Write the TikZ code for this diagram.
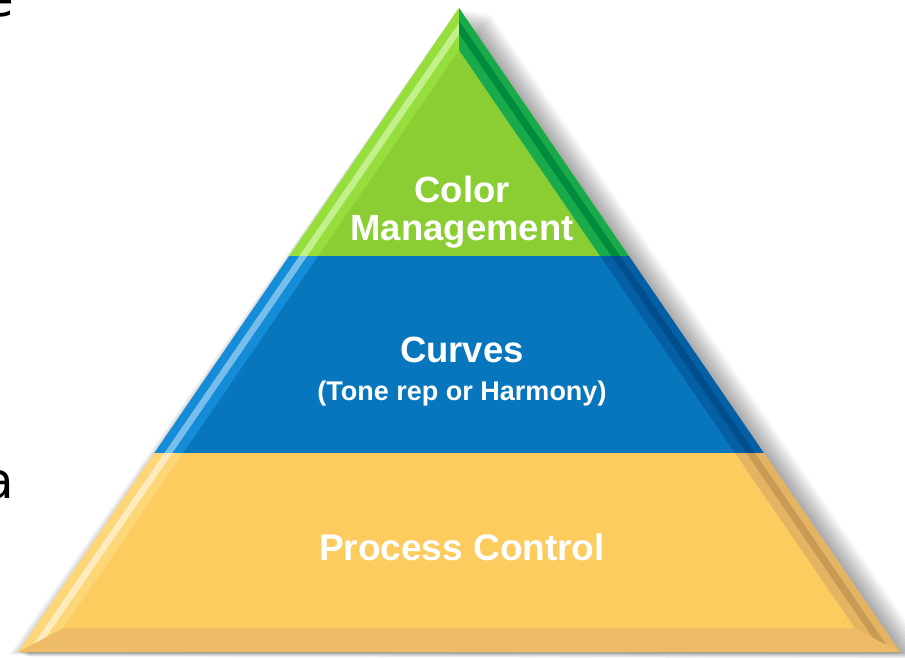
\documentclass[tikz,border=0pt]{standalone}
\usepackage{fontspec}
\setmainfont{Liberation Sans}
\newfontfamily\edgefont{DejaVu Sans}
\usetikzlibrary{calc}
\definecolor{gMain}{RGB}{138,206,52}
\definecolor{gLeft}{RGB}{150,222,60}
\definecolor{gLStripe}{RGB}{195,240,140}
\definecolor{gRight}{RGB}{25,170,75}
\definecolor{gRStripe}{RGB}{0,140,60}
\definecolor{bMain}{RGB}{8,118,188}
\definecolor{bLeft}{RGB}{20,140,215}
\definecolor{bLStripe}{RGB}{120,190,235}
\definecolor{bRight}{RGB}{5,95,165}
\definecolor{bRStripe}{RGB}{0,78,140}
\definecolor{yMain}{RGB}{252,204,94}
\definecolor{yLeft}{RGB}{253,214,120}
\definecolor{yLStripe}{RGB}{255,236,190}
\definecolor{yRight}{RGB}{228,180,98}
\definecolor{yRStripe}{RGB}{200,155,85}
\definecolor{yBottom}{RGB}{238,188,105}
\newcommand\pyrband[8]{%
\begin{scope}
\clip (0,#1) rectangle (905,#2);
\fill[#3] (A) -- (L) -- (R) -- cycle;
\fill[#5] (A) -- (R) -- (Ri) -- (Ai) -- cycle;
\fill[#8] (L) -- (R) -- (Ri) -- (Li) -- cycle;
\fill[#4] ($(A)!0.35!(Ai)$) -- ($(L)!0.35!(Li)$) -- ($(L)!0.62!(Li)$) -- ($(A)!0.62!(Ai)$) -- cycle;
\fill[#6] ($(A)!0.3!(Ai)$) -- ($(R)!0.3!(Ri)$) -- ($(R)!0.6!(Ri)$) -- ($(A)!0.6!(Ai)$) -- cycle;
\fill[#7] (Ai) -- (Li) -- (Ri) -- cycle;
\end{scope}}
\begin{document}
\begin{tikzpicture}[x=1pt,y=-1pt,
  lbl/.style={text=white,inner sep=0,anchor=base},
  big/.style={font=\bfseries\fontsize{36.5}{36.5}\selectfont},
  small/.style={font=\bfseries\fontsize{27}{27}\selectfont},
  edgeletter/.style={inner sep=0,anchor=base east,text=black,font=\edgefont\fontsize{50}{50}\selectfont}]
\useasboundingbox (0,0) rectangle (905,658);
\clip (0,0) rectangle (905,658);
\fill[white] (0,0) rectangle (905,658);
\coordinate (A) at (459,8);
\coordinate (L) at (18,652);
\coordinate (R) at (900,652);
\coordinate (Ai) at (459,50.5);
\coordinate (Li) at (63.5,628);
\coordinate (Ri) at (854.5,628);
% shadow
\foreach \k in {1,4,...,31} {
  \fill[black,opacity=0.035] ($(A)+(\k,0.2*\k)$) -- ($(L)+(0.3*\k,0.15*\k)$) -- ($(R)+(\k,0.2*\k)$) -- cycle;
}
\foreach \k in {1,3,...,9} {
  \fill[black,opacity=0.03] ($(A)+(-0.3*\k,0.3*\k)$) -- ($(L)+(-\k,0.3*\k)$) -- ($(R)+(0,0.3*\k)$) -- cycle;
}
% bands
\pyrband{0}{256}{gLeft}{gLStripe}{gRight}{gRStripe}{gMain}{gMain}
\pyrband{256}{453}{bLeft}{bLStripe}{bRight}{bRStripe}{bMain}{bMain}
\pyrband{453}{660}{yLeft}{yLStripe}{yRight}{yRStripe}{yMain}{yBottom}
% labels
\node[lbl,big] (color) at (462,202) {Color};
\node[lbl,big] (mgmt) at (462,240) {Management};
\node[lbl,big] (curves) at (462,362) {Curves};
\node[lbl,small] (tone) at (462,400) {(Tone rep or Harmony)};
\node[lbl,font=\bfseries\fontsize{37}{37}\selectfont] (proc) at (462,560) {Process Control};
% cut-off letters at left edge
\node[edgeletter] (le) at (14,17) {e};
\node[edgeletter] (la) at (14,498) {a};
\end{tikzpicture}
\end{document}
